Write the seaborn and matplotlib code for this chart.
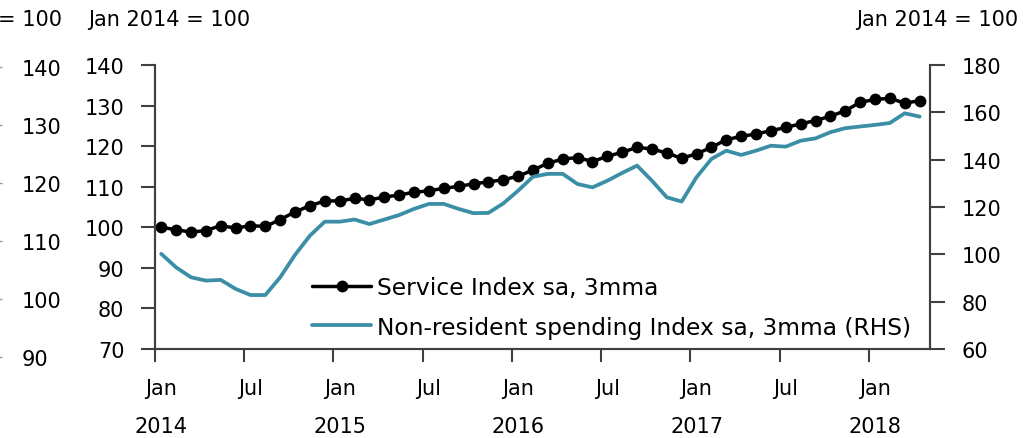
import numpy as np
import pandas as pd
import seaborn as sns
import matplotlib.pyplot as plt

# month index 0 = Jan 2014 ... 51 = Apr 2018
service = [100.0, 99.4, 98.8, 99.2, 100.4, 99.8, 100.4, 100.2, 101.9, 103.8,
           105.3, 106.5, 106.5, 107.1, 106.8, 107.4, 108.0, 108.6, 109.0, 109.6,
           110.1, 110.7, 111.2, 111.7, 112.6, 114.1, 115.8, 116.8, 117.2, 116.2,
           117.5, 118.5, 119.7, 119.3, 118.3, 117.0, 118.1, 119.7, 121.6, 122.4,
           123.0, 123.8, 124.6, 125.5, 126.3, 127.4, 128.7, 130.8, 131.5, 131.8,
           130.6, 131.2]
nonres = [100.2, 94.5, 90.3, 88.9, 89.2, 85.4, 82.8, 82.8, 90.3, 99.8,
          107.9, 113.8, 113.8, 114.7, 112.8, 114.7, 116.6, 119.2, 121.3, 121.3,
          119.2, 117.4, 117.5, 121.5, 126.9, 132.8, 134.0, 134.0, 129.7, 128.3,
          131.1, 134.4, 137.5, 131.1, 124.1, 122.3, 132.6, 140.3, 143.8, 142.0,
          143.8, 145.9, 145.5, 148.0, 149.0, 151.6, 153.3, 154.0, 154.7, 155.5,
          159.6, 158.2]
tick_pos = [0, 6, 12, 18, 24, 30, 36, 42, 48]
tick_labels = ["Jan\n2014", "Jul", "Jan\n2015", "Jul", "Jan\n2016", "Jul",
               "Jan\n2017", "Jul", "Jan\n2018"]
left_ticks = [70, 80, 90, 100, 110, 120, 130, 140]
right_ticks = [60, 80, 100, 120, 140, 160, 180]
side_ticks = [90, 100, 110, 120, 130, 140]

sns.set_theme(style="ticks")
plt.rcParams["font.family"] = ["DejaVu Sans"]
plt.rcParams["text.color"] = "black"
plt.rcParams["xtick.labelcolor"] = "black"
plt.rcParams["ytick.labelcolor"] = "black"
FS = 15
LFS = 16.8
spine_c = "#404040"
teal = "#3a8ea6"

df = pd.DataFrame({"month": np.arange(len(service)), "service": service, "nonres": nonres})

fig = plt.figure(figsize=(10.3, 4.39), dpi=100)
ax = fig.add_axes([155 / 1030, 89 / 439, 775 / 1030, 284 / 439])
ax2 = ax.twinx()

sns.lineplot(data=df, x="month", y="service", ax=ax, color="black", lw=2.5,
             marker="o", markersize=8.5, markeredgewidth=0,
             label="Service Index sa, 3mma", legend=False)
sns.lineplot(data=df, x="month", y="nonres", ax=ax2, color=teal, lw=2.7,
             label="Non-resident spending Index sa, 3mma (RHS)", legend=False)

ax.set_xlim(-0.42, 51.7)
ax.set_ylim(70, 140)
ax2.set_ylim(60, 180)
ax.set_yticks(left_ticks)
ax2.set_yticks(right_ticks)
ax.set_xticks(tick_pos)
ax.set_xticklabels(tick_labels, linespacing=2.1, va="top")
ax.set_xticks([p - 0.42 for p in tick_pos], minor=True)
ax.tick_params(axis="x", which="major", length=0, pad=21, labelsize=FS)
ax.tick_params(axis="x", which="minor", length=9, width=1.5, color=spine_c)
ax.tick_params(axis="y", length=10, width=1.5, color=spine_c, pad=12, labelsize=FS)
ax2.tick_params(axis="y", length=11, width=1.5, color=spine_c, pad=12, labelsize=FS)
for a in (ax, ax2):
    a.set_xlabel("")
    a.set_ylabel("")
    a.spines["top"].set_visible(False)
    for s in ("left", "right", "bottom"):
        a.spines[s].set_color(spine_c)
        a.spines[s].set_linewidth(1.5)

h1, l1 = ax.get_legend_handles_labels()
h2, l2 = ax2.get_legend_handles_labels()
leg = ax2.legend(h1 + h2, l1 + l2, loc="lower left", bbox_to_anchor=(0.194, 0.012),
                 borderaxespad=0, frameon=True, fontsize=LFS, handlelength=2.5,
                 handletextpad=0.25, labelspacing=0.72, borderpad=0.3)
leg.get_frame().set_edgecolor("none")
leg.get_frame().set_facecolor("white")
leg.get_frame().set_alpha(1)

# neighbouring chart's axis cut at the left edge
ax0 = fig.add_axes([-0.1, (439 - 358) / 439, 0.102, 290 / 439])
ax0.set_ylim(90, 140)
ax0.set_yticks(side_ticks)
ax0.set_xticks([])
ax0.yaxis.tick_right()
ax0.tick_params(axis="y", direction="in", length=2, width=1, color="#999999",
                pad=14, labelsize=FS)
for s in ax0.spines.values():
    s.set_visible(False)
ax0.patch.set_visible(False)

fig.text(62 / 1030, 1 - 20 / 439, "= 100", ha="right", va="center", fontsize=FS)
fig.text(88 / 1030, 1 - 20 / 439, "Jan 2014 = 100", ha="left", va="center", fontsize=FS)
fig.text(1018 / 1030, 1 - 20 / 439, "Jan 2014 = 100", ha="right", va="center", fontsize=FS)

fig.savefig("out.png", dpi=100)
